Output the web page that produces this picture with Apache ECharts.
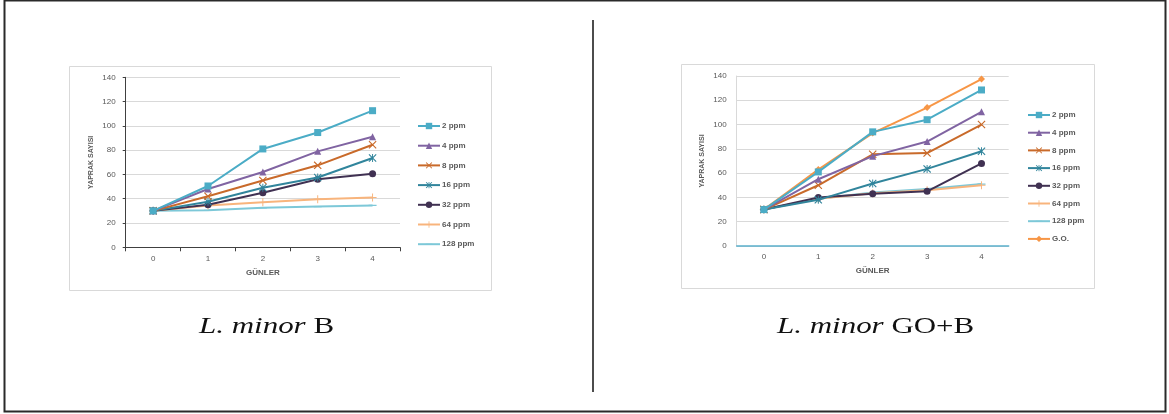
<!DOCTYPE html>
<html>
<head>
<meta charset="utf-8">
<script src="https://cdn.jsdelivr.net/npm/echarts@6/dist/echarts.min.js"></script>
<style>
  html, body { margin: 0; padding: 0; background: #fff; }
  #chart { width: 1169px; height: 414px; }
</style>
</head>
<body>
<div id="chart"></div>
<script>
// Days of measurement (x axis)
const days = ['0', '1', '2', '3', '4'];
const yTicks = [0, 20, 40, 60, 80, 100, 120, 140];

// Leaf counts, L. minor with B
const b2ppm   = [30, 50.5, 81, 94.5, 112.5];
const b4ppm   = [30, 48, 62, 79, 91];
const b8ppm   = [30, 42, 55, 67.5, 84.5];
const b16ppm  = [30, 37.5, 49, 57.5, 73.5];
const b32ppm  = [30, 35, 45, 56, 60.5];
const b64ppm  = [30, 34.5, 37, 39.5, 41];
const b128ppm = [30, 30.5, 32.5, 33.5, 34.5];

// Leaf counts, L. minor with GO+B
const g2ppm   = [30, 61, 94, 104, 128.5];
const g4ppm   = [30, 55, 74, 86, 110.5];
const g8ppm   = [30, 50, 75.5, 76.5, 100];
const g16ppm  = [30, 38, 51.5, 63.5, 78];
const g32ppm  = [30, 40, 43, 45, 68];
const g64ppm  = [30, 39, 43.5, 46, 50];
const g128ppm = [30, 39, 44, 47, 51];
const gGO     = [30, 63, 93, 114, 137.5];

const namesB = ['2 ppm', '4 ppm', '8 ppm', '16 ppm', '32 ppm', '64 ppm', '128 ppm'];
const namesG = ['2 ppm', '4 ppm', '8 ppm', '16 ppm', '32 ppm', '64 ppm', '128 ppm', 'G.O.'];

// Marker shapes
const X_PATH = 'path://M0,1 L1,0 L5,4 L9,0 L10,1 L6,5 L10,9 L9,10 L5,6 L1,10 L0,9 L4,5 Z';
const PLUS_PATH = 'path://M4.4,0 H5.6 V4.4 H10 V5.6 H5.6 V10 H4.4 V5.6 H0 V4.4 H4.4 Z';
const STAR_PATH = 'path://M0,1 L1,0 L5,4 L9,0 L10,1 L6,5 L10,9 L9,10 L5,6 L1,10 L0,9 L4,5 Z M4.4,0 H5.6 V10 H4.4 Z';
// short horizontal dash inside a square box (corner points keep the box square)
const DASH_PATH = 'path://M0,0 L0,0 Z M0,4.3 H10 V5.7 H0 Z M10,10 L10,10 Z';

const styles = {
  '2 ppm':   { color: '#4BACC6', symbol: 'rect', size: 7 },
  '4 ppm':   { color: '#8064A2', symbol: 'triangle', size: 7 },
  '8 ppm':   { color: '#C96A2A', symbol: X_PATH, size: 8 },
  '16 ppm':  { color: '#31859C', symbol: STAR_PATH, size: 8 },
  '32 ppm':  { color: '#403152', symbol: 'circle', size: 7 },
  '64 ppm':  { color: '#F8B47C', symbol: PLUS_PATH, size: 8 },
  '128 ppm': { color: '#7DC8D8', symbol: DASH_PATH, size: 8 },
  'G.O.':    { color: '#F79646', symbol: 'diamond', size: 7 }
};

const valuesB = [b2ppm, b4ppm, b8ppm, b16ppm, b32ppm, b64ppm, b128ppm];
const valuesG = [g2ppm, g4ppm, g8ppm, g16ppm, g32ppm, g64ppm, g128ppm, gGO];

function makeSeries(names, values, axisIndex) {
  return names.map((n, i) => ({
    name: n,
    type: 'line',
    xAxisIndex: axisIndex,
    yAxisIndex: axisIndex,
    data: values[i],
    symbol: styles[n].symbol,
    symbolSize: styles[n].size,
    showAllSymbol: true,
    lineStyle: { color: styles[n].color, width: 2 },
    itemStyle: { color: styles[n].color, borderWidth: 0 },
    emphasis: { disabled: true },
    animation: false,
    z: 10 - i
  }));
}

const labelColor = '#595959';
const font = 'Liberation Sans, Arial, sans-serif';

function yAxis(gridIndex, strong) {
  return {
    type: 'value', gridIndex, min: 0, max: 140, interval: 20,
    name: 'YAPRAK SAYISI', nameLocation: 'middle', nameGap: 31,
    nameTextStyle: { fontSize: 7, fontWeight: 'bold', color: labelColor, fontFamily: font },
    axisLine: { show: true, lineStyle: { color: strong ? '#404040' : '#d9d9d9', width: 1 } },
    axisTick: { show: strong, length: 3, lineStyle: { color: '#404040' } },
    axisLabel: { fontSize: 8, color: labelColor, margin: 10, fontFamily: font,
                 formatter: v => yTicks.includes(v) ? String(v) : '' },
    splitLine: { lineStyle: { color: '#d9d9d9', width: 1 } }
  };
}

function xAxis(gridIndex, strong) {
  return {
    type: 'category', gridIndex, data: days, boundaryGap: true,
    name: 'GÜNLER', nameLocation: 'middle', nameGap: 21,
    nameTextStyle: { fontSize: 8, fontWeight: 'bold', color: labelColor, fontFamily: font },
    axisLine: { show: true, lineStyle: strong ? { color: '#404040', width: 1 } : { color: '#5BB0CC', width: 1.5 } },
    axisTick: { show: strong, length: 4, lineStyle: { color: '#404040' } },
    axisLabel: { fontSize: 8, color: labelColor, margin: 7, fontFamily: font }
  };
}

function legend(names, left, top, gap) {
  return {
    data: names, orient: 'vertical', left, top,
    itemWidth: 22, itemHeight: 8, itemGap: gap,
    selectedMode: false,
    textStyle: { fontSize: 8, fontWeight: 'bold', color: labelColor, fontFamily: font, lineHeight: 8, padding: [0, 0, 0, -3] },
    padding: 0
  };
}

const captionFont = 'Liberation Serif, Times New Roman, serif';
function caption(text, left) {
  return {
    type: 'text', left, top: 315, silent: true, scaleX: 1.29,
    style: {
      text,
      rich: {
        i: { fontFamily: captionFont, fontStyle: 'italic', fontSize: 24, fill: '#111' },
        n: { fontFamily: captionFont, fontSize: 24, fill: '#111' }
      }
    }
  };
}

const chart = echarts.init(document.getElementById('chart'), null, { renderer: 'canvas' });

chart.setOption({
  animation: false,
  backgroundColor: '#ffffff',
  grid: [
    { left: 125.7, top: 77.3, width: 274.3, height: 170 },
    { left: 736.7, top: 76, width: 272, height: 170 }
  ],
  xAxis: [xAxis(0, true), xAxis(1, false)],
  yAxis: [yAxis(0, true), yAxis(1, false)],
  legend: [
    legend(namesB, 417, 122, 11.7),
    legend(namesG, 1027, 111, 9.7)
  ],
  series: makeSeries(namesB, valuesB, 0).concat(makeSeries(namesG, valuesG, 1)),
  graphic: [
    { type: 'rect', shape: { x: 4.5, y: 0.5, width: 1161, height: 411 }, style: { fill: 'none', stroke: '#2a2a2a', lineWidth: 2 }, silent: true },
    { type: 'line', shape: { x1: 593, y1: 20, x2: 593, y2: 392 }, style: { stroke: '#111', lineWidth: 1.5 }, silent: true },
    { type: 'rect', shape: { x: 69.5, y: 66.5, width: 422, height: 224 }, style: { fill: 'none', stroke: '#d9d9d9', lineWidth: 1 }, silent: true, z: -1 },
    { type: 'rect', shape: { x: 681.5, y: 64.5, width: 413, height: 224 }, style: { fill: 'none', stroke: '#d9d9d9', lineWidth: 1 }, silent: true, z: -1 },
    caption('{i|L. minor}{n| B}', 199),
    caption('{i|L. minor}{n| GO+B}', 777)
  ]
});
</script>
</body>
</html>
